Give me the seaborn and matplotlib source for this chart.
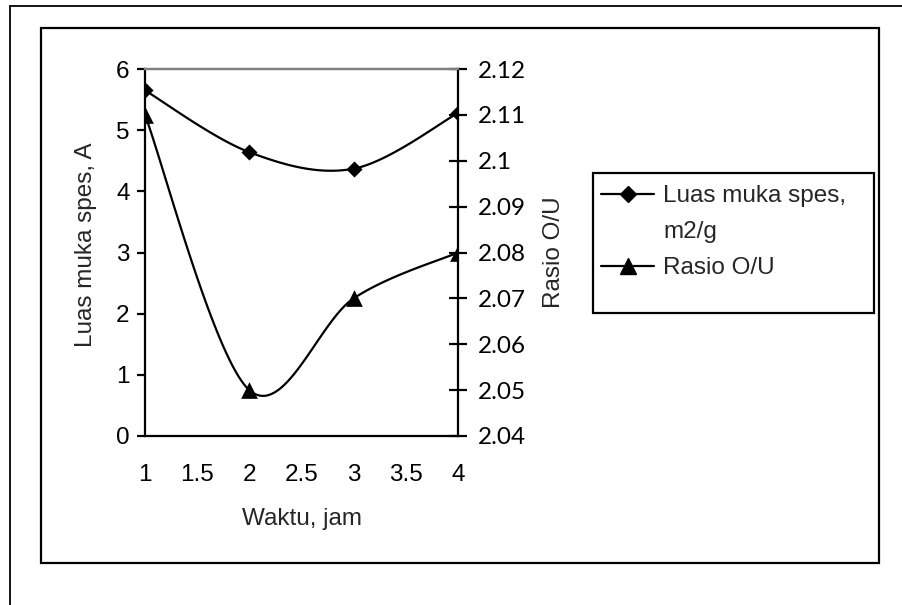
import numpy as np
import pandas as pd
import matplotlib
matplotlib.use("Agg")
import matplotlib.pyplot as plt
import seaborn as sns
from matplotlib.lines import Line2D
from matplotlib.patches import Rectangle

# ---- data ----
waktu = [1, 2, 3, 4]
luas = [5.65, 4.64, 4.37, 5.28]
rasio = [2.11, 2.05, 2.07, 2.08]
x_ticks = [1, 1.5, 2, 2.5, 3, 3.5, 4]
x_tick_labels = ["1", "1.5", "2", "2.5", "3", "3.5", "4"]
left_ticks = [0, 1, 2, 3, 4, 5, 6]
right_ticks = [2.04, 2.05, 2.06, 2.07, 2.08, 2.09, 2.10, 2.11, 2.12]
right_tick_labels = ["2.04", "2.05", "2.06", "2.07", "2.08", "2.09", "2.1", "2.11", "2.12"]
label_luas_1 = "Luas muka spes,"
label_luas_2 = "m2/g"
label_rasio = "Rasio O/U"


def smooth(x, y, n=40):
    P = np.column_stack([x, y]).astype(float)
    ext = np.vstack([P[0], P, P[-1]])
    out = []
    for i in range(len(P) - 1):
        p0, p1 = P[i], P[i + 1]
        c1 = p0 + (ext[i + 2] - ext[i]) / 6
        c2 = p1 - (ext[i + 3] - ext[i + 1]) / 6
        t = np.linspace(0, 1, n)[:, None]
        seg = (1 - t) ** 3 * p0 + 3 * (1 - t) ** 2 * t * c1 + 3 * (1 - t) * t ** 2 * c2 + t ** 3 * p1
        out.append(seg if i == 0 else seg[1:])
    return np.vstack(out)


sns.set_style("white")
ARIAL = ["Liberation Sans", "DejaVu Sans"]
CALIBRI = ["Lato", "DejaVu Sans"]
plt.rcParams["font.family"] = ARIAL
FS = 17.5

W, H = 902, 605
fig = plt.figure(figsize=(W / 100, H / 100), dpi=100)
fig.patch.set_facecolor("white")

def fx(px):
    return px / W

def fy(py):
    return 1 - py / H

ax = fig.add_axes([fx(145), fy(436), fx(458) - fx(145), fy(69) - fy(436)])
ax2 = ax.twinx()

# smooth curves
s1 = smooth(waktu, luas)
s2 = smooth(waktu, rasio)
sns.lineplot(x=s1[:, 0], y=s1[:, 1], ax=ax, color="black", lw=1.6, sort=False, estimator=None)
sns.lineplot(x=s2[:, 0], y=s2[:, 1], ax=ax2, color="black", lw=1.6, sort=False, estimator=None)
sns.scatterplot(x=waktu, y=luas, ax=ax, marker="D", s=8.2 ** 2, color="black", edgecolor="black", linewidth=0, zorder=5)
sns.scatterplot(x=waktu, y=rasio, ax=ax2, marker="^", s=12 ** 2, color="black", edgecolor="black", linewidth=0, zorder=5)

ax.set_xlim(1, 4)
ax.set_ylim(0, 6)
ax2.set_ylim(2.04, 2.12)
ax.set_xticks(x_ticks)
ax.set_xticklabels(x_tick_labels)
ax.set_yticks(left_ticks)
ax.set_yticklabels([str(v) for v in left_ticks])
ax2.set_yticks(right_ticks)
ax2.set_yticklabels(right_tick_labels, fontfamily=CALIBRI)

for a in (ax, ax2):
    a.set_facecolor("none")
    a.grid(False)
    for sp in a.spines.values():
        sp.set_linewidth(1.6)
        sp.set_color("black")
ax.spines["top"].set_color("#808080")
ax2.spines["top"].set_color("#808080")
ax.spines["right"].set_visible(False)
ax2.spines["left"].set_visible(False)
ax2.spines["bottom"].set_visible(False)

ax.tick_params(axis="x", direction="out", length=6, width=1.6, labelsize=FS, pad=14, colors="black")
ax.tick_params(axis="y", direction="out", length=6, width=1.6, labelsize=FS, pad=5, colors="black")
ax2.tick_params(axis="y", direction="inout", length=13, width=1.6, labelsize=FS, pad=8, colors="black")

ax.set_xlabel("Waktu, jam", fontsize=FS, labelpad=16)
ax.set_ylabel("Luas muka spes, A", fontsize=FS, labelpad=13)
ax.yaxis.set_label_coords(-0.153, 0.52)
ax2.set_ylabel("Rasio O/U", fontsize=FS, labelpad=12)

# legend box
fig.add_artist(Rectangle((fx(593), fy(313)), fx(874) - fx(593), fy(173) - fy(313),
                         transform=fig.transFigure, fill=False, edgecolor="black", lw=1.6))
handles = [
    Line2D([], [], color="black", lw=1.6, marker="D", markersize=8.2),
    Line2D([], [], color="none", lw=0),
    Line2D([], [], color="black", lw=1.6, marker="^", markersize=12),
]
leg = fig.legend(handles, [label_luas_1, label_luas_2, label_rasio], loc="upper left",
                 bbox_to_anchor=(fx(601), fy(185)), bbox_transform=fig.transFigure,
                 frameon=False, fontsize=FS, handlelength=2.2, handletextpad=0.35,
                 labelspacing=0.58, borderpad=0.0, borderaxespad=0.0)

# inner chart frame
fig.add_artist(Rectangle((fx(41), fy(563)), fx(879) - fx(41), fy(28) - fy(563),
                         transform=fig.transFigure, fill=False, edgecolor="black", lw=1.6))
# outer frame (top and left edges visible)
fig.add_artist(Line2D([fx(10), 1.0], [fy(6), fy(6)], transform=fig.transFigure, color="black", lw=1.3))
fig.add_artist(Line2D([fx(10), fx(10)], [fy(6), 0.0], transform=fig.transFigure, color="black", lw=1.3))

fig.savefig("out.png", dpi=100, facecolor="white")
